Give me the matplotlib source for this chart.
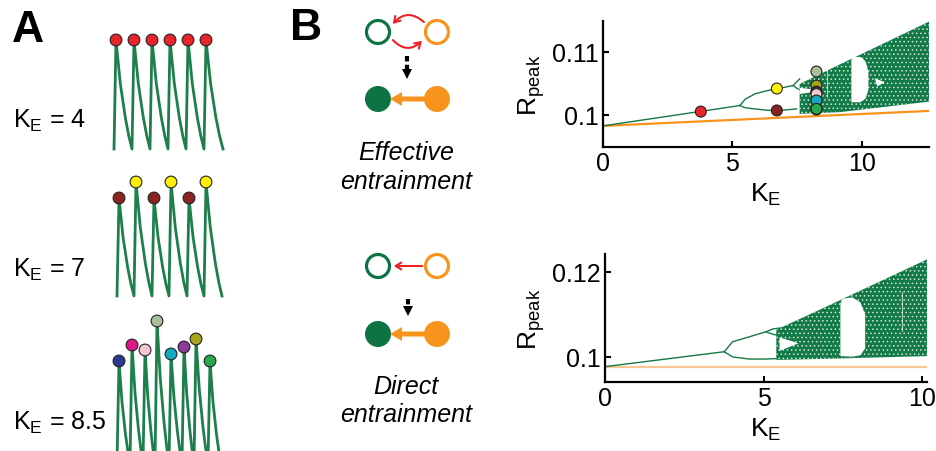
import matplotlib
matplotlib.use('Agg')
import matplotlib.pyplot as plt
from matplotlib.patches import Circle, FancyArrow, FancyArrowPatch, Polygon

plt.rcParams['font.family'] = ['Liberation Sans', 'DejaVu Sans']
plt.rcParams['mathtext.fontset'] = 'custom'
plt.rcParams['mathtext.rm'] = 'Liberation Sans'
plt.rcParams['mathtext.it'] = 'Liberation Sans:italic'
plt.rcParams['hatch.linewidth'] = 0.6

GREEN = '#127a46'
TRACE = '#1d7f4b'
ORANGE = '#f7941d'
PEACH = '#f8c792'
RED = '#ec2227'

# ---------------- panel A : example traces (arb. time units, height above trough)
k_labels = ['4', '7', '8.5']
t_peaks = [
    [1.1, 2.9, 4.7, 6.5, 8.3, 10.1],
    [1.4, 3.1, 4.9, 6.6, 8.4, 10.1],
    [1.4, 2.7, 4.0, 5.2, 6.6, 7.9, 9.1, 10.5],
]
h_peaks = [
    [1.09, 1.09, 1.09, 1.09, 1.09, 1.09],
    [0.98, 1.14, 0.98, 1.14, 0.98, 1.14],
    [0.90, 1.06, 1.01, 1.30, 0.97, 1.04, 1.12, 0.90],
]
troughs = [0.0, 0.0, -0.12]
last_decay = [1.7, 1.6, 1.1]
peak_colors = [
    ['#e8262a'] * 6,
    ['#8b2323', '#ffef00'] * 3,
    ['#2b3a8f', '#e0158a', '#f6c6d6', '#a9bf9a', '#12a8c0', '#8b3b98', '#a7a51f', '#27a84a'],
]
# shape of one decay (fraction of cycle, fraction of height)
decay_t = [0.0, 0.1, 0.27, 0.45, 0.58, 0.8, 1.0]
decay_v = [1.0, 0.85, 0.6, 0.42, 0.29, 0.12, 0.0]

# ---------------- panel B : bifurcation diagrams
# effective entrainment
eff_orange_k = [0, 12.6]
eff_orange_r = [0.09825, 0.10063]
eff_p1_k = [0, 5.29]
eff_p1_r = [0.09825, 0.10148]
eff_up_k = [5.29, 5.5, 5.87, 6.3, 6.7, 7.1, 7.35]
eff_up_r = [0.10148, 0.10250, 0.10333, 0.10380, 0.10413, 0.10445, 0.10466]
eff_lo_k = [5.29, 5.5, 5.87, 6.3, 6.7, 7.1, 7.48]
eff_lo_r = [0.10148, 0.10112, 0.10095, 0.10075, 0.10068, 0.10080, 0.10095]
eff_p4a_k = [7.35, 7.5, 7.6]
eff_p4a_r = [0.10466, 0.1053, 0.1057]
eff_p4b_k = [7.35, 7.5, 7.6]
eff_p4b_r = [0.10466, 0.1042, 0.1040]
eff_band_k = [7.6, 9.15, 12.6]
eff_band_top = [0.1049, 0.1080, 0.1148]
eff_band_bot = [0.10016, 0.10043, 0.1021]
eff_wedge = [(7.6, 0.1043), (8.5, 0.10386), (7.6, 0.1033)]
eff_window = [(9.60, 0.1020), (9.60, 0.1088), (9.68, 0.1092), (9.95, 0.1092), (10.15, 0.1085),
              (10.26, 0.1068), (10.26, 0.1040), (10.15, 0.1026), (9.95, 0.1020)]
eff_blob = [(10.5, 0.1058), (10.9, 0.1052), (10.6, 0.1045)]
eff_gap_k = 8.64
eff_dots_k = [3.78, 6.72, 6.72] + [8.25] * 8
eff_dots_r = [0.10052, 0.10418, 0.10070,
              0.10688, 0.10465, 0.10370, 0.10352, 0.10330, 0.10228, 0.10085, 0.10095]
eff_dots_c = ['#e8262a', '#ffef00', '#8b2323',
              '#a9bf9a', '#a7a51f', '#e0158a', '#8b3b98', '#f6c6d6', '#12a8c0', '#2b3a8f', '#27a84a']

# direct entrainment
dir_orange_k = [0, 10.15]
dir_orange_r = [0.09771, 0.09771]
dir_p1_k = [0, 3.76]
dir_p1_r = [0.09771, 0.10122]
dir_up_k = [3.76, 4.02, 4.55, 5.07]
dir_up_r = [0.10122, 0.10356, 0.10473, 0.10590]
dir_lo_k = [3.76, 4.02, 4.55, 5.07, 5.38]
dir_lo_r = [0.10122, 0.10000, 0.09950, 0.09950, 0.09960]
dir_p4a_k = [5.07, 5.3, 5.54]
dir_p4a_r = [0.10590, 0.1066, 0.1068]
dir_p4b_k = [5.07, 5.3, 5.54]
dir_p4b_r = [0.10590, 0.1053, 0.1050]
dir_band_k = [5.4, 6.74, 10.17]
dir_band_top = [0.1064, 0.1110, 0.1230]
dir_band_bot = [0.0993, 0.0995, 0.1002]
dir_wedge = [(5.5, 0.1046), (6.1, 0.1032), (5.5, 0.1014)]
dir_window = [(7.42, 0.1002), (7.42, 0.1126), (7.5, 0.1137), (7.8, 0.1140), (8.05, 0.1128),
              (8.2, 0.1100), (8.2, 0.1020), (8.05, 0.1004), (7.8, 0.10005)]
dir_gap_k = 9.35

fig = plt.figure(figsize=(9.36, 4.52), dpi=100)
W, H = 936, 452


def px_axes(left, top, right, bottom, **kw):
    return fig.add_axes([left / W, 1 - bottom / H, (right - left) / W, (bottom - top) / H], **kw)


ov = px_axes(0, 0, W, H)
ov.set_xlim(0, W)
ov.set_ylim(H, 0)
ov.axis('off')

ov.text(28, 30, 'A', fontsize=32, fontweight='bold', ha='center', va='center')
ov.text(306, 29, 'B', fontsize=32, fontweight='bold', ha='center', va='center')


def trace(t_pk, h_pk, base, rise, decay):
    ts, ys = [t_pk[0] - rise], [base]
    for i, (t, h) in enumerate(zip(t_pk, h_pk)):
        d = (t_pk[i + 1] - t - rise) if i + 1 < len(t_pk) else decay
        for f, v in zip(decay_t, decay_v):
            ts.append(t + f * d)
            ys.append(base + (h - base) * v)
    return ts, ys


# rows of panel A: (top px, bottom px, ylim) and label baseline
rows = [(20, 160, (-0.10, 1.30), 128), (170, 305, (-0.08, 1.27), 277), (310, 452, (0.0, 1.42), 430)]
for i, (top, bot, ylim, lab_y) in enumerate(rows):
    ax = px_axes(105, top, 230, bot)
    ax.set_xlim(0, 12.5)
    ax.set_ylim(*ylim)
    ax.axis('off')
    ts, ys = trace(t_peaks[i], h_peaks[i], troughs[i], 0.2, last_decay[i])
    ax.plot(ts, ys, color=TRACE, lw=2.0, solid_joinstyle='round')
    ax.scatter(t_peaks[i], h_peaks[i], s=72, c=peak_colors[i], edgecolors='#222222',
               linewidths=0.8, zorder=3, clip_on=False)
    ov.text(13, lab_y, r'K$_\mathrm{E}$ = ' + k_labels[i], fontsize=18, va='baseline')

# ---------------- schematics
def circles(y, filled):
    for x, c in [(378, '#0e7342'), (437, ORANGE)]:
        if filled:
            ov.add_patch(Circle((x, y), 13, fc=c, ec='none'))
        else:
            ov.add_patch(Circle((x, y), 11.5, fc='none', ec=c, lw=2.3))


def down_arrow(x, y0, y1):
    ov.plot([x, x], [y0, y1 - 10], color='black', lw=3, dashes=(1.3, 0.8), solid_capstyle='butt')
    ov.add_patch(Polygon([(x - 5, y1 - 10), (x + 5, y1 - 10), (x, y1)], closed=True, fc='black', ec='none'))


def orange_arrow(y):
    ov.add_patch(FancyArrow(433, y, -43, 0, width=5, head_width=14, head_length=12,
                            length_includes_head=True, fc=ORANGE, ec='none', zorder=3))


circles(33, False)
ov.add_patch(FancyArrowPatch((426, 25), (391, 27), connectionstyle='arc3,rad=0.55',
                             arrowstyle='->,head_length=4,head_width=2.5', color=RED, lw=1.5))
ov.add_patch(FancyArrowPatch((391, 39), (424, 40), connectionstyle='arc3,rad=0.55',
                             arrowstyle='->,head_length=4,head_width=2.5', color=RED, lw=1.5))
down_arrow(407, 57, 80)
circles(100, True)
orange_arrow(100)
ov.text(406, 153, 'Effective', fontsize=18, style='italic', ha='center', va='center')
ov.text(406, 182, 'entrainment', fontsize=18, style='italic', ha='center', va='center')

circles(267, False)
ov.add_patch(FancyArrowPatch((425, 267), (391, 267), arrowstyle='->,head_length=4,head_width=2.5',
                             color=RED, lw=1.5))
down_arrow(408, 300, 317)
circles(335, True)
orange_arrow(335)
ov.text(406, 387, 'Direct', fontsize=18, style='italic', ha='center', va='center')
ov.text(406, 415, 'entrainment', fontsize=18, style='italic', ha='center', va='center')


# ---------------- bifurcation axes
def style(ax, xlim, ylim, yticks, ylabels):
    ax.set_xlim(*xlim)
    ax.set_ylim(*ylim)
    for s in ['top', 'right']:
        ax.spines[s].set_visible(False)
    for s in ['left', 'bottom']:
        ax.spines[s].set_linewidth(1.6)
    ax.set_xticks([0, 5, 10])
    ax.set_yticks(yticks)
    ax.set_yticklabels(ylabels)
    ax.tick_params(direction='in', length=4, width=1.5, labelsize=18, pad=3)
    ax.set_xlabel(r'K$_\mathrm{E}$', fontsize=19, labelpad=4)
    ax.set_ylabel(r'R$_\mathrm{peak}$', fontsize=19, labelpad=4)
    ax.patch.set_alpha(0)


def bif(ax, orange, branches, band, wedge, window, gap_k, orange_c):
    ax.plot(*orange, color=orange_c, lw=1.6, zorder=2)
    for k, r in branches:
        ax.plot(k, r, color=GREEN, lw=1.0, zorder=2)
    k, top, bot = band
    ax.fill_between(k, bot, top, facecolor=GREEN, edgecolor='#cfe3d6', hatch='....', lw=0, zorder=2)
    for poly in [wedge] + window:
        ax.add_patch(Polygon(poly, closed=True, fc='white', ec='none', zorder=2.5))
    ax.axvline(gap_k, ymin=0.4, ymax=0.7, color='white', lw=0.6, alpha=0.8, zorder=2.5)


ax1 = px_axes(603, 22, 929, 148)
style(ax1, (0, 12.6), (0.0949, 0.1149), [0.1, 0.11], ['0.1', '0.11'])
bif(ax1, (eff_orange_k, eff_orange_r),
    [(eff_p1_k, eff_p1_r), (eff_up_k, eff_up_r), (eff_lo_k, eff_lo_r),
     (eff_p4a_k, eff_p4a_r), (eff_p4b_k, eff_p4b_r)],
    (eff_band_k, eff_band_top, eff_band_bot), eff_wedge, [eff_window, eff_blob], eff_gap_k, ORANGE)
ax1.scatter(eff_dots_k, eff_dots_r, s=62, c=eff_dots_c, edgecolors='#222222', linewidths=0.8,
            zorder=4, clip_on=False)

ax2 = px_axes(605, 255, 927, 383)
style(ax2, (0, 10.15), (0.0941, 0.1242), [0.1, 0.12], ['0.1', '0.12'])
bif(ax2, (dir_orange_k, dir_orange_r),
    [(dir_p1_k, dir_p1_r), (dir_up_k, dir_up_r), (dir_lo_k, dir_lo_r),
     (dir_p4a_k, dir_p4a_r), (dir_p4b_k, dir_p4b_r)],
    (dir_band_k, dir_band_top, dir_band_bot), dir_wedge, [dir_window], dir_gap_k, PEACH)

fig.savefig('out.png', dpi=100)
